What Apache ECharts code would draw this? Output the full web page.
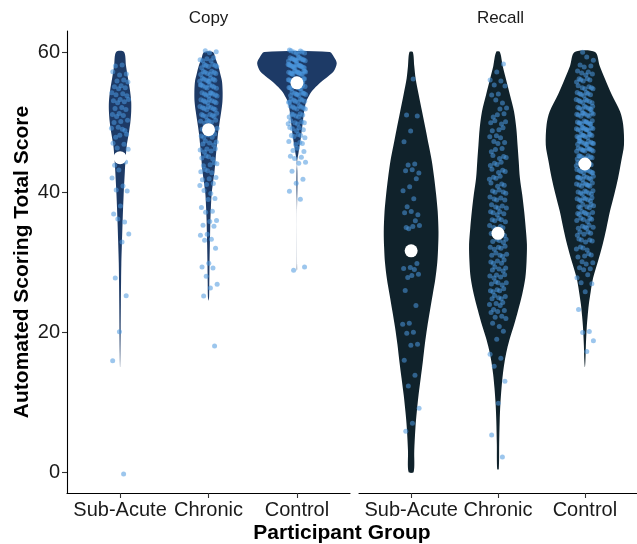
<!DOCTYPE html>
<html>
<head>
<meta charset="utf-8">
<script src="https://cdn.jsdelivr.net/npm/echarts@6/dist/echarts.min.js"></script>
<style>
html, body { margin: 0; padding: 0; background: #fff; }
#main { width: 637px; height: 544px; }
</style>
</head>
<body>
<div id="main"></div>
<script>
var groups = ['Sub-Acute', 'Chronic', 'Control'];
var panels = ['Copy', 'Recall'];
var yTicks = [0, 20, 40, 60];

// white dots (group means)
var copyMeans = [44.9, 48.9, 55.6];
var recallMeans = [31.6, 34.1, 44.0];

// violin outlines: [score, half width relative to the widest violin]
var copySubAcuteDensity = [[60,0.10],[58,0.15],[56.2,0.2],[54.5,0.25],[52.9,0.28],[51.5,0.28],[50,0.26],[48.4,0.22],[46.7,0.17],[44.8,0.14],[42.9,0.12],[39.6,0.09],[35.8,0.064],[32.4,0.045],[29.8,0.032],[27.4,0.026],[24,0.02],[20.3,0.015],[17,0.008],[15,0.002]];
var copyChronicDensity = [[60,0.11],[59,0.18],[58.1,0.24],[56.8,0.3],[55.8,0.34],[54.3,0.355],[52.9,0.35],[51.5,0.32],[50,0.28],[48.4,0.24],[46.7,0.21],[44.8,0.18],[42.9,0.15],[41.2,0.11],[39.6,0.077],[37.7,0.06],[35.8,0.047],[34,0.04],[32.4,0.034],[29.8,0.026],[27,0.02],[25,0.015],[24.5,0.003]];
var copyControlDensity = [[60,0.82],[59.3,0.93],[58.4,1.0],[57.2,0.92],[56.5,0.78],[55.8,0.62],[55,0.47],[54.3,0.36],[53.5,0.28],[52.9,0.23],[51.5,0.18],[49.1,0.13],[47.8,0.10],[46.7,0.07],[45.6,0.04],[44.6,0.01],[44,0.002],[43,0.01],[41,0.013],[39,0.006],[37,0.001],[30,0.002],[29,0.005],[28.8,0.001]];
var recallSubAcuteDensity = [[60,0.043],[58,0.08],[56.2,0.115],[54,0.19],[51.5,0.28],[49,0.37],[46.7,0.45],[44.4,0.53],[42,0.59],[39.6,0.64],[37.2,0.68],[34.3,0.70],[32,0.69],[30,0.67],[27.6,0.62],[25.3,0.55],[23,0.48],[20.6,0.41],[18.2,0.35],[15.8,0.30],[13.4,0.245],[11,0.19],[8.6,0.145],[6.3,0.11],[3,0.08],[0,0.064]];
var recallChronicDensity = [[60,0.047],[58,0.12],[56.2,0.2],[54,0.3],[51.5,0.41],[49,0.47],[46.7,0.5],[44.4,0.53],[42,0.56],[39.6,0.62],[37.2,0.67],[34.8,0.71],[32.5,0.74],[30,0.73],[27.8,0.70],[25.4,0.62],[23,0.51],[21,0.41],[19.2,0.31],[17.5,0.23],[15.8,0.17],[14,0.125],[12,0.09],[9.6,0.06],[7.3,0.043],[4,0.03],[0.4,0.02]];
var recallControlDensity = [[60,0.26],[58,0.38],[56.2,0.51],[54,0.68],[51.5,0.9],[49.6,0.98],[46.7,1.0],[44.4,0.93],[42,0.85],[39.6,0.75],[37.2,0.64],[34.8,0.55],[32.4,0.45],[30,0.33],[27.7,0.21],[25.8,0.15],[23.9,0.1],[22.2,0.07],[20.6,0.047],[18,0.025],[15.8,0.013],[15,0.003]];

// individual scores: [score, how many participants]
var copySubAcuteScores = [[58,2],[57,3],[56,3],[55,4],[54,4],[53,5],[52,3],[51,4],[50,3],[49,4],[48,3],[47,2],[46,2],[45,1],[44,2],[43,1],[42,1],[41,1],[40,2],[38,1],[37,1],[36,2],[34,1],[33,1],[28,1],[25,1],[20,1],[16,1],[0,1]];
var copyChronicScores = [[60,3],[59,5],[58,7],[57,8],[56,9],[55,9],[54,9],[53,8],[52,8],[51,7],[50,6],[49,5],[48,5],[47,5],[46,5],[45,4],[44,4],[43,4],[42,3],[41,3],[40,2],[39,2],[38,1],[37,2],[36,2],[35,2],[34,2],[33,2],[32,1],[30,1],[29,2],[28,1],[27,1],[26,1],[25,1],[18,1]];
var copyControlScores = [[60,8],[59,14],[58,16],[57,16],[56,14],[55,12],[54,10],[53,9],[52,8],[51,7],[50,6],[49,5],[48,5],[47,4],[46,3],[45,3],[44,2],[43,1],[42,1],[41,1],[40,1],[39,1],[29,2]];
var recallSubAcuteScores = [[56,1],[51,2],[49,1],[47,1],[44,2],[43,3],[42,1],[41,1],[40,1],[39,1],[38,1],[37,3],[36,1],[35,4],[30,1],[29,3],[28,3],[26,1],[24,1],[21,2],[20,2],[18,2],[16,1],[14,1],[12,1],[9,1],[7,1],[6,1]];
var recallChronicScores = [[58,1],[57,1],[56,2],[55,2],[54,2],[53,2],[52,2],[51,3],[50,4],[49,3],[48,3],[47,3],[46,3],[45,4],[44,4],[43,4],[42,4],[41,4],[40,5],[39,5],[38,5],[37,5],[36,5],[35,5],[34,5],[33,5],[32,5],[31,5],[30,5],[29,5],[28,5],[27,5],[26,5],[25,5],[24,4],[23,4],[22,3],[21,2],[20,1],[19,1],[17,1],[16,1],[15,1],[13,1],[10,1],[5,1],[2,1]];
var recallControlScores = [[60,1],[59,2],[58,3],[57,5],[56,6],[55,6],[54,7],[53,8],[52,9],[51,10],[50,11],[49,11],[48,11],[47,11],[46,11],[45,10],[44,10],[43,10],[42,9],[41,9],[40,8],[39,8],[38,7],[37,7],[36,6],[35,6],[34,5],[33,5],[32,4],[31,4],[30,3],[29,3],[28,2],[27,2],[26,1],[23,1],[20,2],[19,1],[17,1]];

var FONT = 'Liberation Sans, Arial, Helvetica, sans-serif';
var violinFill = ['#1d3a66', '#10222b'];
var dotColor = 'rgba(74,152,222,0.55)';

var chart = echarts.init(document.getElementById('main'), null, { renderer: 'canvas' });

function violinSeries(p, densities) {
    return {
        type: 'custom',
        xAxisIndex: p,
        yAxisIndex: p,
        silent: true,
        data: [[1, 30], [2, 30], [3, 30]],
        renderItem: function (params, api) {
            var i = params.dataIndex;
            var band = api.size([1, 0])[0];
            var right = [], left = [];
            densities[i].forEach(function (d) {
                var c = api.coord([i + 1, d[0]]);
                var hw = d[1] * 0.45 * band;
                right.push([c[0] + hw, c[1]]);
                left.unshift([c[0] - hw, c[1]]);
            });
            return {
                type: 'polygon',
                shape: { points: right.concat(left), smooth: 0.3 },
                style: { fill: violinFill[p] }
            };
        }
    };
}

// spread the dots sideways (and a little vertically) like geom_jitter
function jitterPoints(scoreLists) {
    var out = [];
    var n = 0;
    scoreLists.forEach(function (list, gi) {
        list.forEach(function (sc) {
            for (var k = 0; k < sc[1]; k++) {
                n++;
                var jx = ((n * 0.6180339) % 1 - 0.5) * 0.2;
                var jy = ((n * 0.7548777) % 1 - 0.5) * 0.6;
                out.push([gi + 1 + jx, sc[0] + jy]);
            }
        });
    });
    return out;
}

function meanPoints(means) {
    return means.map(function (m, i) { return [i + 1, m]; });
}

function xAxis(p) {
    return {
        type: 'value', gridIndex: p, min: 0.4, max: 3.6,
        axisLine: { show: true, onZero: false, lineStyle: { color: '#000', width: 1.1 } },
        axisTick: { show: true, customValues: [1, 2, 3], length: 5, lineStyle: { color: '#333', width: 1.1 } },
        axisLabel: {
            customValues: [1, 2, 3], margin: 7,
            fontSize: 20, color: '#1a1a1a', fontFamily: FONT,
            formatter: function (v) { return groups[Math.round(v) - 1]; }
        },
        splitLine: { show: false }
    };
}

function dots(p, data, size, color) {
    return {
        type: 'scatter', xAxisIndex: p, yAxisIndex: p, silent: true,
        symbolSize: size, itemStyle: { color: color, opacity: 1 }, data: data
    };
}

var option = {
    animation: false,
    backgroundColor: '#fff',
    grid: [
        { left: 67, top: 31, width: 283, height: 462 },
        { left: 359, top: 31, width: 283, height: 462 }
    ],
    xAxis: [xAxis(0), xAxis(1)],
    yAxis: [
        {
            type: 'value', gridIndex: 0, min: -3, max: 63,
            name: 'Automated Scoring Total Score', nameLocation: 'middle', nameGap: 34,
            nameTextStyle: { fontSize: 21, fontWeight: 'bold', color: '#000', fontFamily: FONT },
            axisLine: { show: true, lineStyle: { color: '#000', width: 1.1 } },
            axisTick: { show: true, customValues: yTicks, length: 5, lineStyle: { color: '#333', width: 1.1 } },
            axisLabel: { customValues: yTicks, margin: 7, fontSize: 20, color: '#1a1a1a', fontFamily: FONT },
            splitLine: { show: false }
        },
        { type: 'value', gridIndex: 1, min: -3, max: 63, show: false, splitLine: { show: false } }
    ],
    graphic: [
        { type: 'text', x: 208.5, y: 18, style: { text: panels[0], fontSize: 17, fill: '#1a1a1a', fontFamily: FONT, align: 'center', verticalAlign: 'middle' } },
        { type: 'text', x: 500.5, y: 18, style: { text: panels[1], fontSize: 17, fill: '#1a1a1a', fontFamily: FONT, align: 'center', verticalAlign: 'middle' } },
        { type: 'text', x: 342, y: 533, style: { text: 'Participant Group', fontSize: 21, fontWeight: 'bold', fill: '#000', fontFamily: FONT, align: 'center', verticalAlign: 'middle' } }
    ],
    series: [
        violinSeries(0, [copySubAcuteDensity, copyChronicDensity, copyControlDensity]),
        violinSeries(1, [recallSubAcuteDensity, recallChronicDensity, recallControlDensity]),
        dots(0, jitterPoints([copySubAcuteScores, copyChronicScores, copyControlScores]), 5, dotColor),
        dots(1, jitterPoints([recallSubAcuteScores, recallChronicScores, recallControlScores]), 5, dotColor),
        dots(0, meanPoints(copyMeans), 13, '#fff'),
        dots(1, meanPoints(recallMeans), 13, '#fff')
    ]
};

chart.setOption(option);
</script>
</body>
</html>
